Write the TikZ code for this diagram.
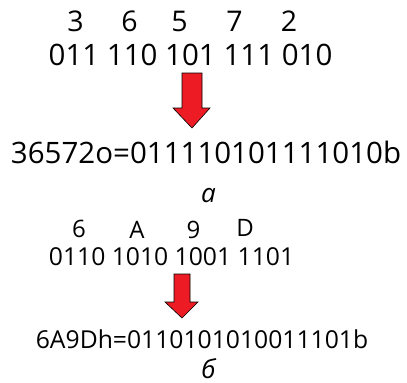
\documentclass[tikz,border=0pt]{standalone}
\usepackage{fontspec}
\setmainfont{Open Sans}
\definecolor{arrowred}{HTML}{ED1C24}
\begin{document}
\begin{tikzpicture}[x=1bp,y=-1bp,
  txt/.style={inner sep=0pt,anchor=base},
  big/.style={txt,font=\fontsize{29.5bp}{32bp}\selectfont},
  digit/.style={txt,font=\fontsize{28.5bp}{30bp}\selectfont},
  hexd/.style={txt,font=\fontsize{24bp}{26bp}\selectfont},
  mid/.style={txt,font=\fontsize{24.7bp}{28bp}\selectfont},
  lab/.style={txt,font=\fontsize{26bp}{30bp}\selectfont\itshape},
  blockarrow/.style={fill=arrowred,draw=black,line width=0.6bp,line join=miter}]
\useasboundingbox (0,0) rectangle (407,383);
% part a
\node[digit] (o3) at (75.5,31) {3};
\node[digit] (o6) at (129.5,31) {6};
\node[digit] (o5) at (179.5,31) {5};
\node[digit] (o7) at (234.5,31) {7};
\node[digit] (o2) at (289,31) {2};
\node[big] (bin1) at (190.5,65) {011 110 101 111 010};
\draw[blockarrow] (182,73) -- (202,73) -- (202,108) -- (210,108) -- (192,128) -- (173,108) -- (182,108) -- cycle;
\node[big] (res1) at (206,163) {36572o=011110101111010b};
\node[lab] (la) at (208.5,202) {а};
% part b
\node[hexd] (h6) at (79,237) {6};
\node[hexd] (hA) at (137,238) {A};
\node[hexd] (h9) at (193.5,238) {9};
\node[hexd] (hD) at (245,236) {D};
\node[mid] (bin2) at (171.5,265) {0110 1010 1001 1101};
\draw[blockarrow] (174,274) -- (190,274) -- (190,302) -- (198,302) -- (182,318) -- (165,302) -- (174,302) -- cycle;
\node[mid] (res2) at (202,348) {6A9Dh=0110101010011101b};
\node[lab] (lb) at (208.5,378.5) {б};
\end{tikzpicture}
\end{document}
